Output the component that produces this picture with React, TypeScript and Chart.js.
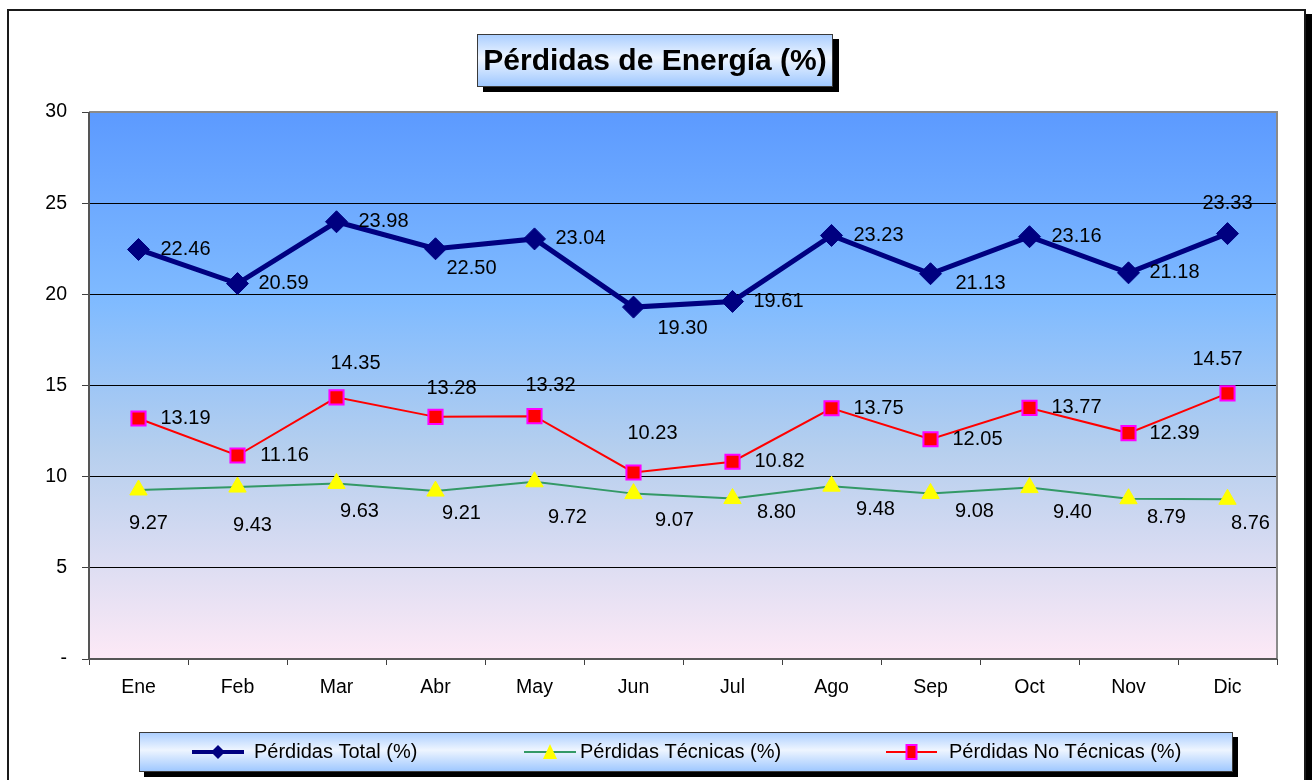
import React, { useEffect, useRef } from "react";
import { Chart, registerables } from "chart.js";

Chart.register(...registerables);

const months = ["Ene", "Feb", "Mar", "Abr", "May", "Jun", "Jul", "Ago", "Sep", "Oct", "Nov", "Dic"];
const perdidasTotal = [22.46, 20.59, 23.98, 22.5, 23.04, 19.3, 19.61, 23.23, 21.13, 23.16, 21.18, 23.33];
const perdidasTecnicas = [9.27, 9.43, 9.63, 9.21, 9.72, 9.07, 8.8, 9.48, 9.08, 9.4, 8.79, 8.76];
const perdidasNoTecnicas = [13.19, 11.16, 14.35, 13.28, 13.32, 10.23, 10.82, 13.75, 12.05, 13.77, 12.39, 14.57];
const yTickValues = [0, 5, 10, 15, 20, 25, 30];
const yTickLabels = ["-", "5", "10", "15", "20", "25", "30"];
const seriesNames = ["Pérdidas Total (%)", "Pérdidas Técnicas (%)", "Pérdidas No Técnicas (%)"];
const chartTitle = "Pérdidas de Energía (%)";

// data-label placement (pixel offsets from each point), per series
const totalLabelOffsets = [[47, 0], [46, 0], [47, 0], [36, 20], [46, 0], [49, 21], [46, 0], [47, 0], [50, 10], [47, 0], [46, 0], [0, -30]];
const tecnicasLabelOffsets = [[10, 34], [15, 38], [23, 28], [26, 22], [33, 36], [41, 27], [44, 14], [44, 23], [44, 18], [43, 25], [38, 19], [23, 24]];
const noTecnicasLabelOffsets = [[47, 0], [47, 0], [19, -34], [16, -28], [16, -31], [19, -39], [47, 0], [47, 0], [47, 0], [47, 0], [46, 0], [-10, -34]];

const FONT = "'Liberation Sans', Arial, sans-serif";
const W = 1314;
const H = 780;

function boxGradient(ctx: CanvasRenderingContext2D, top: number, bottom: number) {
  const g = ctx.createLinearGradient(0, top, 0, bottom);
  g.addColorStop(0, "#a9cdff");
  g.addColorStop(0.45, "#eef5ff");
  g.addColorStop(1, "#9cc6ff");
  return g;
}

const decorPlugin = {
  id: "decor",
  beforeDraw(chart: any) {
    const { ctx, chartArea: a } = chart;
    ctx.save();
    ctx.fillStyle = "#ffffff";
    ctx.fillRect(0, 0, W, H);
    ctx.fillStyle = "#000000";
    ctx.fillRect(1306, 14, 6, H);
    ctx.strokeStyle = "#1a1a1a";
    ctx.lineWidth = 2;
    ctx.strokeRect(8, 10, 1297, H + 20);
    const g = ctx.createLinearGradient(0, a.top, 0, a.bottom);
    g.addColorStop(0, "#5c9aff");
    g.addColorStop(0.35, "#80bbff");
    g.addColorStop(0.62, "#b6cfee");
    g.addColorStop(1, "#fde9f6");
    ctx.fillStyle = g;
    ctx.fillRect(a.left, a.top, a.right - a.left, a.bottom - a.top);
    ctx.restore();
  },
  beforeDatasetsDraw(chart: any) {
    const { ctx, chartArea: a } = chart;
    ctx.save();
    ctx.lineWidth = 2;
    ctx.strokeStyle = "#8a8a8a";
    ctx.beginPath();
    ctx.moveTo(a.left, a.top);
    ctx.lineTo(a.right, a.top);
    ctx.lineTo(a.right, a.bottom);
    ctx.stroke();
    ctx.strokeStyle = "#555555";
    ctx.beginPath();
    ctx.moveTo(a.left, a.top);
    ctx.lineTo(a.left, a.bottom);
    ctx.lineTo(a.right, a.bottom);
    ctx.stroke();
    ctx.restore();
  },
  afterDatasetsDraw(chart: any) {
    const { ctx } = chart;
    const offsets = [totalLabelOffsets, tecnicasLabelOffsets, noTecnicasLabelOffsets];
    ctx.save();
    ctx.font = `20px ${FONT}`;
    ctx.fillStyle = "#000000";
    ctx.textAlign = "center";
    ctx.textBaseline = "middle";
    chart.data.datasets.forEach((ds: any, di: number) => {
      const meta = chart.getDatasetMeta(di);
      meta.data.forEach((pt: any, i: number) => {
        const [dx, dy] = offsets[di][i];
        ctx.fillText(Number(ds.data[i]).toFixed(2), pt.x + dx, pt.y + dy);
      });
    });
    ctx.restore();
  },
  afterDraw(chart: any) {
    const { ctx } = chart;
    ctx.save();
    const tx = 477, ty = 34, tw = 356, th = 53;
    ctx.fillStyle = "#000000";
    ctx.fillRect(tx + 6, ty + 5, tw, th);
    ctx.fillStyle = boxGradient(ctx, ty, ty + th);
    ctx.fillRect(tx, ty, tw, th);
    ctx.strokeStyle = "#3a3a3a";
    ctx.lineWidth = 1;
    ctx.strokeRect(tx + 0.5, ty + 0.5, tw - 1, th - 1);
    ctx.fillStyle = "#000000";
    ctx.font = `bold 30px ${FONT}`;
    ctx.textAlign = "center";
    ctx.textBaseline = "middle";
    ctx.fillText(chartTitle, tx + tw / 2, ty + th / 2 + 1);

    const lx = 139, ly = 732, lw = 1094, lh = 40;
    ctx.fillStyle = "#000000";
    ctx.fillRect(lx + 5, ly + 5, lw, lh);
    ctx.fillStyle = boxGradient(ctx, ly, ly + lh);
    ctx.fillRect(lx, ly, lw, lh);
    ctx.strokeStyle = "#3a3a3a";
    ctx.strokeRect(lx + 0.5, ly + 0.5, lw - 1, lh - 1);
    const cy = ly + lh / 2;
    const items = [
      { x0: 192, x1: 244, text: 254 },
      { x0: 524, x1: 576, text: 580 },
      { x0: 886, x1: 937, text: 949 },
    ];
    const dsets = chart.data.datasets;
    items.forEach((it, i) => {
      const ds = dsets[i];
      ctx.strokeStyle = ds.borderColor;
      ctx.lineWidth = i === 0 ? 4 : 2;
      ctx.beginPath();
      ctx.moveTo(it.x0, cy);
      ctx.lineTo(it.x1, cy);
      ctx.stroke();
      const mx = (it.x0 + it.x1) / 2;
      ctx.fillStyle = ds.pointBackgroundColor;
      ctx.beginPath();
      if (i === 0) {
        ctx.moveTo(mx - 7, cy);
        ctx.lineTo(mx, cy - 7);
        ctx.lineTo(mx + 7, cy);
        ctx.lineTo(mx, cy + 7);
        ctx.closePath();
        ctx.fill();
      } else if (i === 1) {
        ctx.moveTo(mx, cy - 8);
        ctx.lineTo(mx + 7, cy + 7);
        ctx.lineTo(mx - 7, cy + 7);
        ctx.closePath();
        ctx.fill();
      } else {
        ctx.rect(mx - 5, cy - 7, 10, 14);
        ctx.fill();
        ctx.strokeStyle = ds.pointBorderColor;
        ctx.lineWidth = 2;
        ctx.stroke();
      }
      ctx.fillStyle = "#000000";
      ctx.font = `20px ${FONT}`;
      ctx.textAlign = "left";
      ctx.textBaseline = "middle";
      ctx.fillText(seriesNames[i], it.text, cy);
    });
    ctx.restore();
  },
};

export default function App() {
  const canvasRef = useRef<HTMLCanvasElement | null>(null);

  useEffect(() => {
    const canvas = canvasRef.current;
    if (!canvas) return;
    Chart.defaults.font.family = FONT;
    const chart = new Chart(canvas, {
      type: "line",
      data: {
        labels: months,
        datasets: [
          {
            label: seriesNames[0],
            data: perdidasTotal,
            borderColor: "#000080",
            backgroundColor: "#000080",
            borderWidth: 5,
            pointStyle: "rectRot",
            pointRadius: 11,
            pointBackgroundColor: "#000080",
            pointBorderColor: "#000080",
            pointBorderWidth: 1,
            tension: 0,
          },
          {
            label: seriesNames[1],
            data: perdidasTecnicas,
            borderColor: "#339966",
            backgroundColor: "#ffff00",
            borderWidth: 2,
            pointStyle: "triangle",
            pointRadius: 10,
            pointBackgroundColor: "#ffff00",
            pointBorderColor: "#ffff00",
            pointBorderWidth: 1,
            tension: 0,
          },
          {
            label: seriesNames[2],
            data: perdidasNoTecnicas,
            borderColor: "#ff0000",
            backgroundColor: "#ff0000",
            borderWidth: 2,
            pointStyle: "rect",
            pointRadius: 10,
            pointBackgroundColor: "#ff0000",
            pointBorderColor: "#ff00ff",
            pointBorderWidth: 2,
            tension: 0,
          },
        ],
      },
      options: {
        responsive: false,
        animation: false,
        events: [],
        layout: { padding: { top: 112, left: 0, right: 37, bottom: 71 } },
        plugins: {
          legend: { display: false },
          title: { display: false },
          tooltip: { enabled: false },
        },
        scales: {
          x: {
            offset: true,
            grid: {
              offset: true,
              drawOnChartArea: false,
              drawTicks: true,
              tickLength: 6,
              tickColor: "#404040",
              color: "#404040",
            },
            border: { display: false },
            ticks: {
              color: "#000000",
              font: { size: 19.5, family: FONT },
              padding: 11,
              maxRotation: 0,
              autoSkip: false,
            },
            afterFit: (scale: any) => {
              scale.height = 50;
            },
          },
          y: {
            min: 0,
            max: 30,
            afterBuildTicks: (scale: any) => {
              scale.ticks = yTickValues.map((v) => ({ value: v }));
            },
            grid: {
              drawTicks: true,
              tickLength: 7,
              tickColor: "#404040",
              color: (c: any) => (c.tick && (c.tick.value === 0 || c.tick.value === 30) ? "rgba(0,0,0,0)" : "#000000"),
              lineWidth: 1,
            },
            border: { display: false },
            ticks: {
              color: "#000000",
              font: { size: 19.5, family: FONT },
              padding: 15,
              callback: (v: any) => {
                const idx = yTickValues.indexOf(Number(v));
                return idx >= 0 ? yTickLabels[idx] : "";
              },
            },
            afterFit: (scale: any) => {
              scale.width = 89;
            },
          },
        },
      },
      plugins: [decorPlugin],
    });
    return () => chart.destroy();
  }, []);

  return (
    <div style={{ position: "fixed", left: 0, top: 0, width: W, height: H, overflow: "hidden", background: "#fff" }}>
      <canvas ref={canvasRef} width={W} height={H} style={{ display: "block", width: W, height: H }} />
    </div>
  );
}
